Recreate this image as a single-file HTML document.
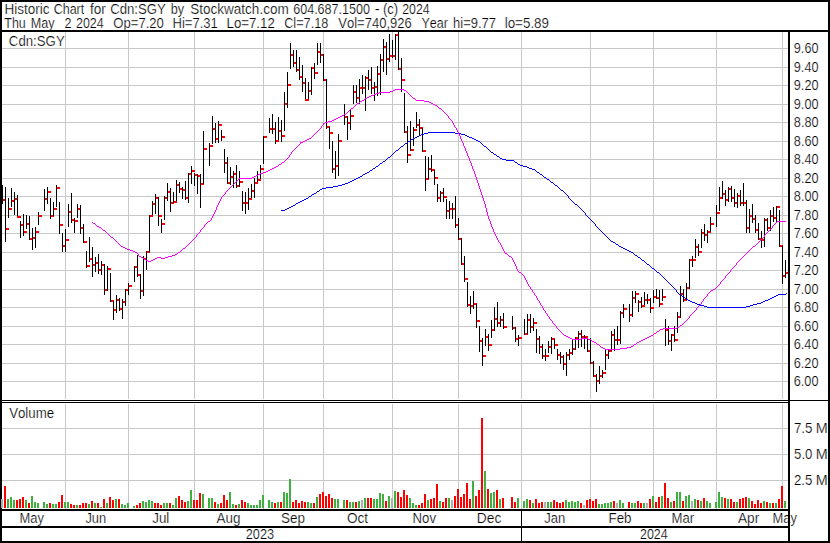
<!DOCTYPE html>
<html><head><meta charset="utf-8"><title>Historic Chart for Cdn:SGY</title>
<style>
html,body{margin:0;padding:0;background:#fff;}
body{width:830px;height:543px;overflow:hidden;font-family:"Liberation Sans",sans-serif;}
svg{display:block;}
text{font-family:"Liberation Sans",sans-serif;white-space:pre;}
</style></head><body>
<svg width="830" height="543" viewBox="0 0 830 543" shape-rendering="crispEdges"><g><rect x="2" y="48" width="786" height="1" fill="#c8c8c8"/><rect x="2" y="67" width="786" height="1" fill="#c8c8c8"/><rect x="2" y="85" width="786" height="1" fill="#c8c8c8"/><rect x="2" y="104" width="786" height="1" fill="#c8c8c8"/><rect x="2" y="122" width="786" height="1" fill="#c8c8c8"/><rect x="2" y="141" width="786" height="1" fill="#c8c8c8"/><rect x="2" y="159" width="786" height="1" fill="#c8c8c8"/><rect x="2" y="178" width="786" height="1" fill="#c8c8c8"/><rect x="2" y="196" width="786" height="1" fill="#c8c8c8"/><rect x="2" y="215" width="786" height="1" fill="#c8c8c8"/><rect x="2" y="233" width="786" height="1" fill="#c8c8c8"/><rect x="2" y="252" width="786" height="1" fill="#c8c8c8"/><rect x="2" y="270" width="786" height="1" fill="#c8c8c8"/><rect x="2" y="289" width="786" height="1" fill="#c8c8c8"/><rect x="2" y="307" width="786" height="1" fill="#c8c8c8"/><rect x="2" y="326" width="786" height="1" fill="#c8c8c8"/><rect x="2" y="344" width="786" height="1" fill="#c8c8c8"/><rect x="2" y="363" width="786" height="1" fill="#c8c8c8"/><rect x="2" y="381" width="786" height="1" fill="#c8c8c8"/><rect x="2" y="428" width="786" height="1" fill="#c8c8c8"/><rect x="2" y="454" width="786" height="1" fill="#c8c8c8"/><rect x="2" y="480" width="786" height="1" fill="#c8c8c8"/><rect x="65" y="32" width="1" height="367" fill="#c8c8c8"/><rect x="65" y="404" width="1" height="105" fill="#c8c8c8"/><rect x="128" y="32" width="1" height="367" fill="#c8c8c8"/><rect x="128" y="404" width="1" height="105" fill="#c8c8c8"/><rect x="194" y="32" width="1" height="367" fill="#c8c8c8"/><rect x="194" y="404" width="1" height="105" fill="#c8c8c8"/><rect x="263" y="32" width="1" height="367" fill="#c8c8c8"/><rect x="263" y="404" width="1" height="105" fill="#c8c8c8"/><rect x="323" y="32" width="1" height="367" fill="#c8c8c8"/><rect x="323" y="404" width="1" height="105" fill="#c8c8c8"/><rect x="392" y="32" width="1" height="367" fill="#c8c8c8"/><rect x="392" y="404" width="1" height="105" fill="#c8c8c8"/><rect x="458" y="32" width="1" height="367" fill="#c8c8c8"/><rect x="458" y="404" width="1" height="105" fill="#c8c8c8"/><rect x="521" y="32" width="1" height="367" fill="#c8c8c8"/><rect x="521" y="404" width="1" height="105" fill="#c8c8c8"/><rect x="590" y="32" width="1" height="367" fill="#c8c8c8"/><rect x="590" y="404" width="1" height="105" fill="#c8c8c8"/><rect x="653" y="32" width="1" height="367" fill="#c8c8c8"/><rect x="653" y="404" width="1" height="105" fill="#c8c8c8"/><rect x="716" y="32" width="1" height="367" fill="#c8c8c8"/><rect x="716" y="404" width="1" height="105" fill="#c8c8c8"/><rect x="782" y="32" width="1" height="367" fill="#c8c8c8"/><rect x="782" y="404" width="1" height="105" fill="#c8c8c8"/></g>
<g><rect x="1" y="499" width="2" height="9" fill="#b0b0b0"/><rect x="4" y="486" width="2" height="22" fill="#ff0000"/><rect x="7" y="499" width="2" height="9" fill="#3eb03e"/><rect x="10" y="497" width="2" height="11" fill="#3eb03e"/><rect x="13" y="500" width="2" height="8" fill="#3eb03e"/><rect x="16" y="500" width="2" height="8" fill="#ff0000"/><rect x="19" y="499" width="2" height="9" fill="#ff0000"/><rect x="22" y="497" width="2" height="11" fill="#ff0000"/><rect x="25" y="500" width="2" height="8" fill="#3eb03e"/><rect x="28" y="503" width="2" height="5" fill="#ff0000"/><rect x="31" y="496" width="2" height="12" fill="#3eb03e"/><rect x="34" y="502" width="2" height="6" fill="#3eb03e"/><rect x="37" y="503" width="2" height="5" fill="#3eb03e"/><rect x="43" y="502" width="2" height="6" fill="#3eb03e"/><rect x="46" y="504" width="2" height="4" fill="#3eb03e"/><rect x="49" y="503" width="2" height="5" fill="#ff0000"/><rect x="52" y="504" width="2" height="4" fill="#3eb03e"/><rect x="55" y="504" width="2" height="4" fill="#3eb03e"/><rect x="58" y="502" width="2" height="6" fill="#ff0000"/><rect x="61" y="495" width="2" height="13" fill="#ff0000"/><rect x="64" y="502" width="2" height="6" fill="#3eb03e"/><rect x="67" y="502" width="2" height="6" fill="#3eb03e"/><rect x="70" y="504" width="2" height="4" fill="#ff0000"/><rect x="73" y="505" width="2" height="3" fill="#ff0000"/><rect x="76" y="505" width="2" height="3" fill="#3eb03e"/><rect x="79" y="505" width="2" height="3" fill="#ff0000"/><rect x="82" y="503" width="2" height="5" fill="#ff0000"/><rect x="85" y="503" width="2" height="5" fill="#ff0000"/><rect x="88" y="504" width="2" height="4" fill="#3eb03e"/><rect x="91" y="501" width="2" height="7" fill="#ff0000"/><rect x="94" y="503" width="2" height="5" fill="#3eb03e"/><rect x="97" y="503" width="2" height="5" fill="#ff0000"/><rect x="100" y="507" width="2" height="1" fill="#3eb03e"/><rect x="103" y="499" width="2" height="9" fill="#ff0000"/><rect x="106" y="503" width="2" height="5" fill="#3eb03e"/><rect x="109" y="497" width="2" height="11" fill="#ff0000"/><rect x="112" y="500" width="2" height="8" fill="#ff0000"/><rect x="115" y="499" width="2" height="9" fill="#3eb03e"/><rect x="118" y="499" width="2" height="9" fill="#ff0000"/><rect x="121" y="504" width="2" height="4" fill="#3eb03e"/><rect x="124" y="505" width="2" height="3" fill="#3eb03e"/><rect x="127" y="503" width="2" height="5" fill="#3eb03e"/><rect x="133" y="506" width="2" height="2" fill="#3eb03e"/><rect x="136" y="505" width="2" height="3" fill="#ff0000"/><rect x="139" y="503" width="2" height="5" fill="#ff0000"/><rect x="142" y="501" width="2" height="7" fill="#3eb03e"/><rect x="145" y="502" width="2" height="6" fill="#3eb03e"/><rect x="148" y="500" width="2" height="8" fill="#3eb03e"/><rect x="151" y="501" width="2" height="7" fill="#3eb03e"/><rect x="154" y="503" width="2" height="5" fill="#ff0000"/><rect x="157" y="503" width="2" height="5" fill="#ff0000"/><rect x="160" y="505" width="2" height="3" fill="#ff0000"/><rect x="163" y="503" width="2" height="5" fill="#3eb03e"/><rect x="166" y="503" width="2" height="5" fill="#3eb03e"/><rect x="169" y="503" width="2" height="5" fill="#ff0000"/><rect x="172" y="505" width="2" height="3" fill="#3eb03e"/><rect x="175" y="498" width="2" height="10" fill="#3eb03e"/><rect x="178" y="496" width="2" height="12" fill="#ff0000"/><rect x="181" y="500" width="2" height="8" fill="#ff0000"/><rect x="184" y="502" width="2" height="6" fill="#ff0000"/><rect x="187" y="501" width="2" height="7" fill="#3eb03e"/><rect x="190" y="490" width="2" height="18" fill="#3eb03e"/><rect x="193" y="500" width="2" height="8" fill="#ff0000"/><rect x="196" y="500" width="2" height="8" fill="#ff0000"/><rect x="199" y="493" width="2" height="15" fill="#ff0000"/><rect x="202" y="494" width="2" height="14" fill="#3eb03e"/><rect x="208" y="498" width="2" height="10" fill="#3eb03e"/><rect x="211" y="498" width="2" height="10" fill="#3eb03e"/><rect x="214" y="502" width="2" height="6" fill="#ff0000"/><rect x="217" y="504" width="2" height="4" fill="#3eb03e"/><rect x="220" y="503" width="2" height="5" fill="#ff0000"/><rect x="223" y="495" width="2" height="13" fill="#ff0000"/><rect x="226" y="500" width="2" height="8" fill="#ff0000"/><rect x="229" y="492" width="2" height="16" fill="#3eb03e"/><rect x="232" y="504" width="2" height="4" fill="#3eb03e"/><rect x="235" y="505" width="2" height="3" fill="#ff0000"/><rect x="238" y="504" width="2" height="4" fill="#3eb03e"/><rect x="241" y="500" width="2" height="8" fill="#ff0000"/><rect x="244" y="502" width="2" height="6" fill="#ff0000"/><rect x="247" y="503" width="2" height="5" fill="#3eb03e"/><rect x="250" y="505" width="2" height="3" fill="#3eb03e"/><rect x="253" y="505" width="2" height="3" fill="#3eb03e"/><rect x="256" y="505" width="2" height="3" fill="#3eb03e"/><rect x="259" y="500" width="2" height="8" fill="#3eb03e"/><rect x="262" y="495" width="2" height="13" fill="#3eb03e"/><rect x="268" y="500" width="2" height="8" fill="#3eb03e"/><rect x="271" y="502" width="2" height="6" fill="#3eb03e"/><rect x="274" y="503" width="2" height="5" fill="#ff0000"/><rect x="277" y="502" width="2" height="6" fill="#3eb03e"/><rect x="280" y="502" width="2" height="6" fill="#ff0000"/><rect x="283" y="492" width="2" height="16" fill="#3eb03e"/><rect x="286" y="493" width="2" height="15" fill="#3eb03e"/><rect x="289" y="479" width="2" height="29" fill="#3eb03e"/><rect x="292" y="502" width="2" height="6" fill="#ff0000"/><rect x="295" y="500" width="2" height="8" fill="#ff0000"/><rect x="298" y="503" width="2" height="5" fill="#ff0000"/><rect x="301" y="501" width="2" height="7" fill="#ff0000"/><rect x="304" y="502" width="2" height="6" fill="#ff0000"/><rect x="307" y="502" width="2" height="6" fill="#3eb03e"/><rect x="310" y="503" width="2" height="5" fill="#3eb03e"/><rect x="313" y="503" width="2" height="5" fill="#ff0000"/><rect x="316" y="497" width="2" height="11" fill="#3eb03e"/><rect x="319" y="494" width="2" height="14" fill="#ff0000"/><rect x="322" y="492" width="2" height="16" fill="#ff0000"/><rect x="325" y="496" width="2" height="12" fill="#ff0000"/><rect x="328" y="494" width="2" height="14" fill="#ff0000"/><rect x="331" y="498" width="2" height="10" fill="#ff0000"/><rect x="334" y="499" width="2" height="9" fill="#3eb03e"/><rect x="337" y="499" width="2" height="9" fill="#3eb03e"/><rect x="343" y="500" width="2" height="8" fill="#3eb03e"/><rect x="346" y="500" width="2" height="8" fill="#ff0000"/><rect x="349" y="502" width="2" height="6" fill="#3eb03e"/><rect x="352" y="502" width="2" height="6" fill="#3eb03e"/><rect x="355" y="502" width="2" height="6" fill="#ff0000"/><rect x="358" y="501" width="2" height="7" fill="#3eb03e"/><rect x="361" y="500" width="2" height="8" fill="#b0b0b0"/><rect x="364" y="498" width="2" height="10" fill="#3eb03e"/><rect x="367" y="498" width="2" height="10" fill="#ff0000"/><rect x="370" y="498" width="2" height="10" fill="#ff0000"/><rect x="373" y="499" width="2" height="9" fill="#3eb03e"/><rect x="376" y="499" width="2" height="9" fill="#3eb03e"/><rect x="379" y="493" width="2" height="15" fill="#3eb03e"/><rect x="382" y="494" width="2" height="14" fill="#3eb03e"/><rect x="385" y="501" width="2" height="7" fill="#ff0000"/><rect x="388" y="496" width="2" height="12" fill="#3eb03e"/><rect x="391" y="498" width="2" height="10" fill="#b0b0b0"/><rect x="394" y="491" width="2" height="17" fill="#3eb03e"/><rect x="397" y="492" width="2" height="16" fill="#ff0000"/><rect x="400" y="497" width="2" height="11" fill="#ff0000"/><rect x="403" y="490" width="2" height="18" fill="#ff0000"/><rect x="406" y="495" width="2" height="13" fill="#ff0000"/><rect x="409" y="498" width="2" height="10" fill="#3eb03e"/><rect x="412" y="503" width="2" height="5" fill="#3eb03e"/><rect x="415" y="505" width="2" height="3" fill="#3eb03e"/><rect x="418" y="505" width="2" height="3" fill="#ff0000"/><rect x="421" y="503" width="2" height="5" fill="#ff0000"/><rect x="424" y="494" width="2" height="14" fill="#ff0000"/><rect x="427" y="500" width="2" height="8" fill="#3eb03e"/><rect x="430" y="499" width="2" height="9" fill="#ff0000"/><rect x="433" y="498" width="2" height="10" fill="#ff0000"/><rect x="436" y="484" width="2" height="24" fill="#ff0000"/><rect x="439" y="501" width="2" height="7" fill="#3eb03e"/><rect x="442" y="502" width="2" height="6" fill="#ff0000"/><rect x="445" y="498" width="2" height="10" fill="#ff0000"/><rect x="448" y="498" width="2" height="10" fill="#3eb03e"/><rect x="451" y="500" width="2" height="8" fill="#b0b0b0"/><rect x="454" y="496" width="2" height="12" fill="#ff0000"/><rect x="457" y="489" width="2" height="19" fill="#ff0000"/><rect x="460" y="497" width="2" height="11" fill="#ff0000"/><rect x="463" y="494" width="2" height="14" fill="#ff0000"/><rect x="466" y="483" width="2" height="25" fill="#ff0000"/><rect x="469" y="499" width="2" height="9" fill="#ff0000"/><rect x="472" y="481" width="2" height="27" fill="#3eb03e"/><rect x="475" y="496" width="2" height="12" fill="#ff0000"/><rect x="478" y="490" width="2" height="18" fill="#ff0000"/><rect x="481" y="418" width="2" height="90" fill="#ff0000"/><rect x="484" y="471" width="2" height="37" fill="#3eb03e"/><rect x="487" y="489" width="2" height="19" fill="#ff0000"/><rect x="490" y="493" width="2" height="15" fill="#3eb03e"/><rect x="493" y="492" width="2" height="16" fill="#3eb03e"/><rect x="496" y="490" width="2" height="18" fill="#ff0000"/><rect x="499" y="499" width="2" height="9" fill="#3eb03e"/><rect x="502" y="498" width="2" height="10" fill="#ff0000"/><rect x="511" y="497" width="2" height="11" fill="#ff0000"/><rect x="514" y="502" width="2" height="6" fill="#ff0000"/><rect x="517" y="498" width="2" height="10" fill="#3eb03e"/><rect x="523" y="501" width="2" height="7" fill="#3eb03e"/><rect x="526" y="499" width="2" height="9" fill="#3eb03e"/><rect x="529" y="500" width="2" height="8" fill="#ff0000"/><rect x="532" y="503" width="2" height="5" fill="#3eb03e"/><rect x="535" y="499" width="2" height="9" fill="#ff0000"/><rect x="538" y="503" width="2" height="5" fill="#ff0000"/><rect x="541" y="502" width="2" height="6" fill="#ff0000"/><rect x="544" y="502" width="2" height="6" fill="#b0b0b0"/><rect x="547" y="502" width="2" height="6" fill="#3eb03e"/><rect x="550" y="502" width="2" height="6" fill="#3eb03e"/><rect x="553" y="500" width="2" height="8" fill="#ff0000"/><rect x="556" y="502" width="2" height="6" fill="#ff0000"/><rect x="559" y="503" width="2" height="5" fill="#ff0000"/><rect x="562" y="502" width="2" height="6" fill="#ff0000"/><rect x="565" y="500" width="2" height="8" fill="#3eb03e"/><rect x="568" y="502" width="2" height="6" fill="#3eb03e"/><rect x="571" y="501" width="2" height="7" fill="#3eb03e"/><rect x="574" y="502" width="2" height="6" fill="#3eb03e"/><rect x="577" y="501" width="2" height="7" fill="#3eb03e"/><rect x="580" y="503" width="2" height="5" fill="#ff0000"/><rect x="583" y="505" width="2" height="3" fill="#b0b0b0"/><rect x="586" y="500" width="2" height="8" fill="#ff0000"/><rect x="589" y="499" width="2" height="9" fill="#ff0000"/><rect x="592" y="501" width="2" height="7" fill="#ff0000"/><rect x="595" y="499" width="2" height="9" fill="#ff0000"/><rect x="598" y="504" width="2" height="4" fill="#3eb03e"/><rect x="601" y="504" width="2" height="4" fill="#3eb03e"/><rect x="604" y="503" width="2" height="5" fill="#3eb03e"/><rect x="607" y="503" width="2" height="5" fill="#3eb03e"/><rect x="610" y="502" width="2" height="6" fill="#3eb03e"/><rect x="613" y="501" width="2" height="7" fill="#ff0000"/><rect x="616" y="503" width="2" height="5" fill="#b0b0b0"/><rect x="619" y="500" width="2" height="8" fill="#3eb03e"/><rect x="622" y="503" width="2" height="5" fill="#3eb03e"/><rect x="628" y="502" width="2" height="6" fill="#ff0000"/><rect x="631" y="503" width="2" height="5" fill="#3eb03e"/><rect x="634" y="503" width="2" height="5" fill="#3eb03e"/><rect x="637" y="501" width="2" height="7" fill="#ff0000"/><rect x="640" y="503" width="2" height="5" fill="#ff0000"/><rect x="643" y="503" width="2" height="5" fill="#3eb03e"/><rect x="646" y="503" width="2" height="5" fill="#b0b0b0"/><rect x="649" y="499" width="2" height="9" fill="#ff0000"/><rect x="652" y="496" width="2" height="12" fill="#3eb03e"/><rect x="655" y="502" width="2" height="6" fill="#ff0000"/><rect x="658" y="497" width="2" height="11" fill="#ff0000"/><rect x="661" y="496" width="2" height="12" fill="#3eb03e"/><rect x="664" y="483" width="2" height="25" fill="#ff0000"/><rect x="667" y="498" width="2" height="10" fill="#ff0000"/><rect x="670" y="502" width="2" height="6" fill="#3eb03e"/><rect x="673" y="501" width="2" height="7" fill="#ff0000"/><rect x="676" y="492" width="2" height="16" fill="#3eb03e"/><rect x="679" y="492" width="2" height="16" fill="#3eb03e"/><rect x="682" y="501" width="2" height="7" fill="#ff0000"/><rect x="685" y="496" width="2" height="12" fill="#3eb03e"/><rect x="688" y="495" width="2" height="13" fill="#3eb03e"/><rect x="691" y="501" width="2" height="7" fill="#b0b0b0"/><rect x="694" y="499" width="2" height="9" fill="#3eb03e"/><rect x="697" y="500" width="2" height="8" fill="#ff0000"/><rect x="700" y="501" width="2" height="7" fill="#3eb03e"/><rect x="703" y="498" width="2" height="10" fill="#ff0000"/><rect x="706" y="501" width="2" height="7" fill="#3eb03e"/><rect x="709" y="503" width="2" height="5" fill="#3eb03e"/><rect x="715" y="502" width="2" height="6" fill="#3eb03e"/><rect x="718" y="492" width="2" height="16" fill="#3eb03e"/><rect x="721" y="497" width="2" height="11" fill="#3eb03e"/><rect x="724" y="498" width="2" height="10" fill="#ff0000"/><rect x="727" y="499" width="2" height="9" fill="#3eb03e"/><rect x="730" y="499" width="2" height="9" fill="#ff0000"/><rect x="733" y="502" width="2" height="6" fill="#ff0000"/><rect x="736" y="502" width="2" height="6" fill="#3eb03e"/><rect x="739" y="499" width="2" height="9" fill="#ff0000"/><rect x="742" y="498" width="2" height="10" fill="#ff0000"/><rect x="745" y="497" width="2" height="11" fill="#ff0000"/><rect x="748" y="498" width="2" height="10" fill="#3eb03e"/><rect x="751" y="501" width="2" height="7" fill="#ff0000"/><rect x="754" y="504" width="2" height="4" fill="#ff0000"/><rect x="757" y="500" width="2" height="8" fill="#ff0000"/><rect x="760" y="503" width="2" height="5" fill="#ff0000"/><rect x="763" y="501" width="2" height="7" fill="#3eb03e"/><rect x="766" y="502" width="2" height="6" fill="#ff0000"/><rect x="769" y="503" width="2" height="5" fill="#3eb03e"/><rect x="772" y="503" width="2" height="5" fill="#ff0000"/><rect x="775" y="503" width="2" height="5" fill="#3eb03e"/><rect x="778" y="499" width="2" height="9" fill="#ff0000"/><rect x="781" y="486" width="2" height="22" fill="#ff0000"/><rect x="784" y="501" width="2" height="7" fill="#3eb03e"/></g>
<g><rect x="2" y="199" width="4" height="2" fill="#ff0000"/><rect x="2" y="185" width="1" height="19" fill="#000"/><rect x="5" y="228" width="4" height="2" fill="#ff0000"/><rect x="5" y="187" width="1" height="55" fill="#000"/><rect x="8" y="208" width="4" height="2" fill="#ff0000"/><rect x="8" y="198" width="1" height="20" fill="#000"/><rect x="11" y="200" width="4" height="2" fill="#ff0000"/><rect x="11" y="188" width="1" height="19" fill="#000"/><rect x="14" y="198" width="4" height="2" fill="#ff0000"/><rect x="14" y="192" width="1" height="23" fill="#000"/><rect x="17" y="216" width="4" height="2" fill="#ff0000"/><rect x="17" y="195" width="1" height="21" fill="#000"/><rect x="20" y="224" width="4" height="2" fill="#ff0000"/><rect x="20" y="221" width="1" height="17" fill="#000"/><rect x="23" y="231" width="4" height="2" fill="#ff0000"/><rect x="23" y="214" width="1" height="22" fill="#000"/><rect x="26" y="223" width="4" height="2" fill="#ff0000"/><rect x="26" y="215" width="1" height="14" fill="#000"/><rect x="29" y="238" width="4" height="2" fill="#ff0000"/><rect x="29" y="216" width="1" height="24" fill="#000"/><rect x="32" y="237" width="4" height="2" fill="#ff0000"/><rect x="32" y="228" width="1" height="22" fill="#000"/><rect x="35" y="231" width="4" height="2" fill="#ff0000"/><rect x="35" y="227" width="1" height="21" fill="#000"/><rect x="38" y="215" width="4" height="2" fill="#ff0000"/><rect x="38" y="212" width="1" height="13" fill="#000"/><rect x="44" y="198" width="4" height="2" fill="#ff0000"/><rect x="44" y="189" width="1" height="22" fill="#000"/><rect x="47" y="191" width="4" height="2" fill="#ff0000"/><rect x="47" y="187" width="1" height="17" fill="#000"/><rect x="50" y="215" width="4" height="2" fill="#ff0000"/><rect x="50" y="198" width="1" height="21" fill="#000"/><rect x="53" y="208" width="4" height="2" fill="#ff0000"/><rect x="53" y="202" width="1" height="14" fill="#000"/><rect x="56" y="187" width="4" height="2" fill="#ff0000"/><rect x="56" y="185" width="1" height="22" fill="#000"/><rect x="59" y="224" width="4" height="2" fill="#ff0000"/><rect x="59" y="202" width="1" height="32" fill="#000"/><rect x="62" y="245" width="4" height="2" fill="#ff0000"/><rect x="62" y="233" width="1" height="19" fill="#000"/><rect x="65" y="239" width="4" height="2" fill="#ff0000"/><rect x="65" y="229" width="1" height="23" fill="#000"/><rect x="68" y="211" width="4" height="2" fill="#ff0000"/><rect x="68" y="204" width="1" height="23" fill="#000"/><rect x="71" y="219" width="4" height="2" fill="#ff0000"/><rect x="71" y="193" width="1" height="30" fill="#000"/><rect x="74" y="220" width="4" height="2" fill="#ff0000"/><rect x="74" y="218" width="1" height="15" fill="#000"/><rect x="77" y="208" width="4" height="2" fill="#ff0000"/><rect x="77" y="204" width="1" height="14" fill="#000"/><rect x="80" y="227" width="4" height="2" fill="#ff0000"/><rect x="80" y="205" width="1" height="29" fill="#000"/><rect x="83" y="241" width="4" height="2" fill="#ff0000"/><rect x="83" y="224" width="1" height="19" fill="#000"/><rect x="86" y="265" width="4" height="2" fill="#ff0000"/><rect x="86" y="251" width="1" height="17" fill="#000"/><rect x="89" y="258" width="4" height="2" fill="#ff0000"/><rect x="89" y="237" width="1" height="25" fill="#000"/><rect x="92" y="264" width="4" height="2" fill="#ff0000"/><rect x="92" y="247" width="1" height="30" fill="#000"/><rect x="95" y="262" width="4" height="2" fill="#ff0000"/><rect x="95" y="257" width="1" height="15" fill="#000"/><rect x="98" y="269" width="4" height="2" fill="#ff0000"/><rect x="98" y="254" width="1" height="20" fill="#000"/><rect x="101" y="264" width="4" height="2" fill="#ff0000"/><rect x="101" y="261" width="1" height="14" fill="#000"/><rect x="104" y="289" width="4" height="2" fill="#ff0000"/><rect x="104" y="264" width="1" height="31" fill="#000"/><rect x="107" y="268" width="4" height="2" fill="#ff0000"/><rect x="107" y="266" width="1" height="25" fill="#000"/><rect x="110" y="300" width="4" height="2" fill="#ff0000"/><rect x="110" y="273" width="1" height="29" fill="#000"/><rect x="113" y="309" width="4" height="2" fill="#ff0000"/><rect x="113" y="301" width="1" height="19" fill="#000"/><rect x="116" y="299" width="4" height="2" fill="#ff0000"/><rect x="116" y="295" width="1" height="18" fill="#000"/><rect x="119" y="308" width="4" height="2" fill="#ff0000"/><rect x="119" y="298" width="1" height="13" fill="#000"/><rect x="122" y="301" width="4" height="2" fill="#ff0000"/><rect x="122" y="299" width="1" height="20" fill="#000"/><rect x="125" y="289" width="4" height="2" fill="#ff0000"/><rect x="125" y="289" width="1" height="17" fill="#000"/><rect x="128" y="285" width="4" height="2" fill="#ff0000"/><rect x="128" y="283" width="1" height="12" fill="#000"/><rect x="134" y="266" width="4" height="2" fill="#ff0000"/><rect x="134" y="266" width="1" height="16" fill="#000"/><rect x="137" y="274" width="4" height="2" fill="#ff0000"/><rect x="137" y="255" width="1" height="22" fill="#000"/><rect x="140" y="290" width="4" height="2" fill="#ff0000"/><rect x="140" y="274" width="1" height="25" fill="#000"/><rect x="143" y="258" width="4" height="2" fill="#ff0000"/><rect x="143" y="256" width="1" height="40" fill="#000"/><rect x="146" y="251" width="4" height="2" fill="#ff0000"/><rect x="146" y="251" width="1" height="19" fill="#000"/><rect x="149" y="215" width="4" height="2" fill="#ff0000"/><rect x="149" y="215" width="1" height="37" fill="#000"/><rect x="152" y="203" width="4" height="2" fill="#ff0000"/><rect x="152" y="201" width="1" height="14" fill="#000"/><rect x="155" y="197" width="4" height="2" fill="#ff0000"/><rect x="155" y="194" width="1" height="20" fill="#000"/><rect x="158" y="215" width="4" height="2" fill="#ff0000"/><rect x="158" y="197" width="1" height="29" fill="#000"/><rect x="161" y="223" width="4" height="2" fill="#ff0000"/><rect x="161" y="219" width="1" height="14" fill="#000"/><rect x="164" y="197" width="4" height="2" fill="#ff0000"/><rect x="164" y="196" width="1" height="24" fill="#000"/><rect x="167" y="191" width="4" height="2" fill="#ff0000"/><rect x="167" y="183" width="1" height="18" fill="#000"/><rect x="170" y="202" width="4" height="2" fill="#ff0000"/><rect x="170" y="188" width="1" height="24" fill="#000"/><rect x="173" y="201" width="4" height="2" fill="#ff0000"/><rect x="173" y="192" width="1" height="11" fill="#000"/><rect x="176" y="184" width="4" height="2" fill="#ff0000"/><rect x="176" y="180" width="1" height="21" fill="#000"/><rect x="179" y="188" width="4" height="2" fill="#ff0000"/><rect x="179" y="182" width="1" height="11" fill="#000"/><rect x="182" y="189" width="4" height="2" fill="#ff0000"/><rect x="182" y="187" width="1" height="12" fill="#000"/><rect x="185" y="197" width="4" height="2" fill="#ff0000"/><rect x="185" y="181" width="1" height="19" fill="#000"/><rect x="188" y="173" width="4" height="2" fill="#ff0000"/><rect x="188" y="173" width="1" height="30" fill="#000"/><rect x="191" y="170" width="4" height="2" fill="#ff0000"/><rect x="191" y="166" width="1" height="18" fill="#000"/><rect x="194" y="174" width="4" height="2" fill="#ff0000"/><rect x="194" y="173" width="1" height="13" fill="#000"/><rect x="197" y="175" width="4" height="2" fill="#ff0000"/><rect x="197" y="174" width="1" height="20" fill="#000"/><rect x="200" y="183" width="4" height="2" fill="#ff0000"/><rect x="200" y="174" width="1" height="34" fill="#000"/><rect x="203" y="148" width="4" height="2" fill="#ff0000"/><rect x="203" y="131" width="1" height="53" fill="#000"/><rect x="209" y="145" width="4" height="2" fill="#ff0000"/><rect x="209" y="143" width="1" height="23" fill="#000"/><rect x="212" y="128" width="4" height="2" fill="#ff0000"/><rect x="212" y="116" width="1" height="28" fill="#000"/><rect x="215" y="138" width="4" height="2" fill="#ff0000"/><rect x="215" y="123" width="1" height="20" fill="#000"/><rect x="218" y="124" width="4" height="2" fill="#ff0000"/><rect x="218" y="121" width="1" height="22" fill="#000"/><rect x="221" y="136" width="4" height="2" fill="#ff0000"/><rect x="221" y="130" width="1" height="11" fill="#000"/><rect x="224" y="162" width="4" height="2" fill="#ff0000"/><rect x="224" y="149" width="1" height="24" fill="#000"/><rect x="227" y="182" width="4" height="2" fill="#ff0000"/><rect x="227" y="157" width="1" height="27" fill="#000"/><rect x="230" y="176" width="4" height="2" fill="#ff0000"/><rect x="230" y="167" width="1" height="18" fill="#000"/><rect x="233" y="173" width="4" height="2" fill="#ff0000"/><rect x="233" y="171" width="1" height="17" fill="#000"/><rect x="236" y="185" width="4" height="2" fill="#ff0000"/><rect x="236" y="165" width="1" height="23" fill="#000"/><rect x="239" y="181" width="4" height="2" fill="#ff0000"/><rect x="239" y="171" width="1" height="16" fill="#000"/><rect x="242" y="202" width="4" height="2" fill="#ff0000"/><rect x="242" y="191" width="1" height="20" fill="#000"/><rect x="245" y="202" width="4" height="2" fill="#ff0000"/><rect x="245" y="192" width="1" height="22" fill="#000"/><rect x="248" y="198" width="4" height="2" fill="#ff0000"/><rect x="248" y="188" width="1" height="22" fill="#000"/><rect x="251" y="190" width="4" height="2" fill="#ff0000"/><rect x="251" y="184" width="1" height="14" fill="#000"/><rect x="254" y="182" width="4" height="2" fill="#ff0000"/><rect x="254" y="178" width="1" height="20" fill="#000"/><rect x="257" y="179" width="4" height="2" fill="#ff0000"/><rect x="257" y="171" width="1" height="11" fill="#000"/><rect x="260" y="168" width="4" height="2" fill="#ff0000"/><rect x="260" y="165" width="1" height="14" fill="#000"/><rect x="263" y="136" width="4" height="2" fill="#ff0000"/><rect x="263" y="136" width="1" height="28" fill="#000"/><rect x="269" y="128" width="4" height="2" fill="#ff0000"/><rect x="269" y="118" width="1" height="15" fill="#000"/><rect x="272" y="128" width="4" height="2" fill="#ff0000"/><rect x="272" y="114" width="1" height="20" fill="#000"/><rect x="275" y="140" width="4" height="2" fill="#ff0000"/><rect x="275" y="122" width="1" height="22" fill="#000"/><rect x="278" y="130" width="4" height="2" fill="#ff0000"/><rect x="278" y="117" width="1" height="23" fill="#000"/><rect x="281" y="135" width="4" height="2" fill="#ff0000"/><rect x="281" y="120" width="1" height="22" fill="#000"/><rect x="284" y="103" width="4" height="2" fill="#ff0000"/><rect x="284" y="92" width="1" height="39" fill="#000"/><rect x="287" y="84" width="4" height="2" fill="#ff0000"/><rect x="287" y="72" width="1" height="36" fill="#000"/><rect x="290" y="54" width="4" height="2" fill="#ff0000"/><rect x="290" y="43" width="1" height="26" fill="#000"/><rect x="293" y="62" width="4" height="2" fill="#ff0000"/><rect x="293" y="50" width="1" height="17" fill="#000"/><rect x="296" y="69" width="4" height="2" fill="#ff0000"/><rect x="296" y="50" width="1" height="22" fill="#000"/><rect x="299" y="76" width="4" height="2" fill="#ff0000"/><rect x="299" y="57" width="1" height="23" fill="#000"/><rect x="302" y="82" width="4" height="2" fill="#ff0000"/><rect x="302" y="65" width="1" height="27" fill="#000"/><rect x="305" y="99" width="4" height="2" fill="#ff0000"/><rect x="305" y="78" width="1" height="21" fill="#000"/><rect x="308" y="90" width="4" height="2" fill="#ff0000"/><rect x="308" y="82" width="1" height="17" fill="#000"/><rect x="311" y="67" width="4" height="2" fill="#ff0000"/><rect x="311" y="67" width="1" height="28" fill="#000"/><rect x="314" y="72" width="4" height="2" fill="#ff0000"/><rect x="314" y="63" width="1" height="16" fill="#000"/><rect x="317" y="51" width="4" height="2" fill="#ff0000"/><rect x="317" y="43" width="1" height="22" fill="#000"/><rect x="320" y="54" width="4" height="2" fill="#ff0000"/><rect x="320" y="43" width="1" height="20" fill="#000"/><rect x="323" y="79" width="4" height="2" fill="#ff0000"/><rect x="323" y="54" width="1" height="27" fill="#000"/><rect x="326" y="126" width="4" height="2" fill="#ff0000"/><rect x="326" y="79" width="1" height="50" fill="#000"/><rect x="329" y="132" width="4" height="2" fill="#ff0000"/><rect x="329" y="127" width="1" height="22" fill="#000"/><rect x="332" y="168" width="4" height="2" fill="#ff0000"/><rect x="332" y="141" width="1" height="32" fill="#000"/><rect x="335" y="165" width="4" height="2" fill="#ff0000"/><rect x="335" y="151" width="1" height="28" fill="#000"/><rect x="338" y="140" width="4" height="2" fill="#ff0000"/><rect x="338" y="134" width="1" height="42" fill="#000"/><rect x="344" y="116" width="4" height="2" fill="#ff0000"/><rect x="344" y="104" width="1" height="21" fill="#000"/><rect x="347" y="122" width="4" height="2" fill="#ff0000"/><rect x="347" y="116" width="1" height="24" fill="#000"/><rect x="350" y="115" width="4" height="2" fill="#ff0000"/><rect x="350" y="110" width="1" height="20" fill="#000"/><rect x="353" y="91" width="4" height="2" fill="#ff0000"/><rect x="353" y="85" width="1" height="19" fill="#000"/><rect x="356" y="97" width="4" height="2" fill="#ff0000"/><rect x="356" y="85" width="1" height="18" fill="#000"/><rect x="359" y="87" width="4" height="2" fill="#ff0000"/><rect x="359" y="79" width="1" height="25" fill="#000"/><rect x="362" y="87" width="4" height="2" fill="#ff0000"/><rect x="362" y="75" width="1" height="19" fill="#000"/><rect x="365" y="77" width="4" height="2" fill="#ff0000"/><rect x="365" y="76" width="1" height="35" fill="#000"/><rect x="368" y="79" width="4" height="2" fill="#ff0000"/><rect x="368" y="70" width="1" height="20" fill="#000"/><rect x="371" y="87" width="4" height="2" fill="#ff0000"/><rect x="371" y="67" width="1" height="27" fill="#000"/><rect x="374" y="86" width="4" height="2" fill="#ff0000"/><rect x="374" y="82" width="1" height="19" fill="#000"/><rect x="377" y="73" width="4" height="2" fill="#ff0000"/><rect x="377" y="66" width="1" height="30" fill="#000"/><rect x="380" y="59" width="4" height="2" fill="#ff0000"/><rect x="380" y="54" width="1" height="41" fill="#000"/><rect x="383" y="46" width="4" height="2" fill="#ff0000"/><rect x="383" y="39" width="1" height="33" fill="#000"/><rect x="386" y="58" width="4" height="2" fill="#ff0000"/><rect x="386" y="42" width="1" height="33" fill="#000"/><rect x="389" y="55" width="4" height="2" fill="#ff0000"/><rect x="389" y="34" width="1" height="28" fill="#000"/><rect x="392" y="55" width="4" height="2" fill="#ff0000"/><rect x="392" y="40" width="1" height="18" fill="#000"/><rect x="395" y="34" width="4" height="2" fill="#ff0000"/><rect x="395" y="34" width="1" height="26" fill="#000"/><rect x="398" y="68" width="4" height="2" fill="#ff0000"/><rect x="398" y="32" width="1" height="38" fill="#000"/><rect x="401" y="79" width="4" height="2" fill="#ff0000"/><rect x="401" y="58" width="1" height="34" fill="#000"/><rect x="404" y="131" width="4" height="2" fill="#ff0000"/><rect x="404" y="93" width="1" height="40" fill="#000"/><rect x="407" y="154" width="4" height="2" fill="#ff0000"/><rect x="407" y="126" width="1" height="37" fill="#000"/><rect x="410" y="149" width="4" height="2" fill="#ff0000"/><rect x="410" y="121" width="1" height="30" fill="#000"/><rect x="413" y="129" width="4" height="2" fill="#ff0000"/><rect x="413" y="127" width="1" height="19" fill="#000"/><rect x="416" y="124" width="4" height="2" fill="#ff0000"/><rect x="416" y="112" width="1" height="16" fill="#000"/><rect x="419" y="127" width="4" height="2" fill="#ff0000"/><rect x="419" y="119" width="1" height="16" fill="#000"/><rect x="422" y="150" width="4" height="2" fill="#ff0000"/><rect x="422" y="128" width="1" height="24" fill="#000"/><rect x="425" y="178" width="4" height="2" fill="#ff0000"/><rect x="425" y="156" width="1" height="35" fill="#000"/><rect x="428" y="168" width="4" height="2" fill="#ff0000"/><rect x="428" y="157" width="1" height="22" fill="#000"/><rect x="431" y="169" width="4" height="2" fill="#ff0000"/><rect x="431" y="155" width="1" height="17" fill="#000"/><rect x="434" y="177" width="4" height="2" fill="#ff0000"/><rect x="434" y="170" width="1" height="15" fill="#000"/><rect x="437" y="197" width="4" height="2" fill="#ff0000"/><rect x="437" y="184" width="1" height="18" fill="#000"/><rect x="440" y="192" width="4" height="2" fill="#ff0000"/><rect x="440" y="191" width="1" height="11" fill="#000"/><rect x="443" y="196" width="4" height="2" fill="#ff0000"/><rect x="443" y="188" width="1" height="14" fill="#000"/><rect x="446" y="210" width="4" height="2" fill="#ff0000"/><rect x="446" y="199" width="1" height="20" fill="#000"/><rect x="449" y="208" width="4" height="2" fill="#ff0000"/><rect x="449" y="201" width="1" height="18" fill="#000"/><rect x="452" y="208" width="4" height="2" fill="#ff0000"/><rect x="452" y="203" width="1" height="16" fill="#000"/><rect x="455" y="224" width="4" height="2" fill="#ff0000"/><rect x="455" y="196" width="1" height="32" fill="#000"/><rect x="458" y="238" width="4" height="2" fill="#ff0000"/><rect x="458" y="218" width="1" height="22" fill="#000"/><rect x="461" y="263" width="4" height="2" fill="#ff0000"/><rect x="461" y="238" width="1" height="27" fill="#000"/><rect x="464" y="278" width="4" height="2" fill="#ff0000"/><rect x="464" y="256" width="1" height="26" fill="#000"/><rect x="467" y="304" width="4" height="2" fill="#ff0000"/><rect x="467" y="282" width="1" height="25" fill="#000"/><rect x="470" y="305" width="4" height="2" fill="#ff0000"/><rect x="470" y="296" width="1" height="18" fill="#000"/><rect x="473" y="303" width="4" height="2" fill="#ff0000"/><rect x="473" y="291" width="1" height="18" fill="#000"/><rect x="476" y="320" width="4" height="2" fill="#ff0000"/><rect x="476" y="304" width="1" height="24" fill="#000"/><rect x="479" y="340" width="4" height="2" fill="#ff0000"/><rect x="479" y="326" width="1" height="26" fill="#000"/><rect x="482" y="355" width="4" height="2" fill="#ff0000"/><rect x="482" y="338" width="1" height="28" fill="#000"/><rect x="485" y="336" width="4" height="2" fill="#ff0000"/><rect x="485" y="329" width="1" height="17" fill="#000"/><rect x="488" y="344" width="4" height="2" fill="#ff0000"/><rect x="488" y="334" width="1" height="17" fill="#000"/><rect x="491" y="329" width="4" height="2" fill="#ff0000"/><rect x="491" y="320" width="1" height="18" fill="#000"/><rect x="494" y="318" width="4" height="2" fill="#ff0000"/><rect x="494" y="307" width="1" height="24" fill="#000"/><rect x="497" y="322" width="4" height="2" fill="#ff0000"/><rect x="497" y="302" width="1" height="25" fill="#000"/><rect x="500" y="319" width="4" height="2" fill="#ff0000"/><rect x="500" y="316" width="1" height="11" fill="#000"/><rect x="503" y="326" width="4" height="2" fill="#ff0000"/><rect x="503" y="313" width="1" height="16" fill="#000"/><rect x="512" y="327" width="4" height="2" fill="#ff0000"/><rect x="512" y="316" width="1" height="14" fill="#000"/><rect x="515" y="338" width="4" height="2" fill="#ff0000"/><rect x="515" y="327" width="1" height="15" fill="#000"/><rect x="518" y="337" width="4" height="2" fill="#ff0000"/><rect x="518" y="335" width="1" height="11" fill="#000"/><rect x="524" y="333" width="4" height="2" fill="#ff0000"/><rect x="524" y="319" width="1" height="16" fill="#000"/><rect x="527" y="319" width="4" height="2" fill="#ff0000"/><rect x="527" y="314" width="1" height="20" fill="#000"/><rect x="530" y="326" width="4" height="2" fill="#ff0000"/><rect x="530" y="314" width="1" height="19" fill="#000"/><rect x="533" y="322" width="4" height="2" fill="#ff0000"/><rect x="533" y="318" width="1" height="13" fill="#000"/><rect x="536" y="338" width="4" height="2" fill="#ff0000"/><rect x="536" y="329" width="1" height="24" fill="#000"/><rect x="539" y="346" width="4" height="2" fill="#ff0000"/><rect x="539" y="336" width="1" height="18" fill="#000"/><rect x="542" y="355" width="4" height="2" fill="#ff0000"/><rect x="542" y="344" width="1" height="15" fill="#000"/><rect x="545" y="355" width="4" height="2" fill="#ff0000"/><rect x="545" y="349" width="1" height="12" fill="#000"/><rect x="548" y="346" width="4" height="2" fill="#ff0000"/><rect x="548" y="341" width="1" height="12" fill="#000"/><rect x="551" y="338" width="4" height="2" fill="#ff0000"/><rect x="551" y="337" width="1" height="17" fill="#000"/><rect x="554" y="344" width="4" height="2" fill="#ff0000"/><rect x="554" y="339" width="1" height="10" fill="#000"/><rect x="557" y="354" width="4" height="2" fill="#ff0000"/><rect x="557" y="349" width="1" height="11" fill="#000"/><rect x="560" y="356" width="4" height="2" fill="#ff0000"/><rect x="560" y="352" width="1" height="12" fill="#000"/><rect x="563" y="363" width="4" height="2" fill="#ff0000"/><rect x="563" y="355" width="1" height="15" fill="#000"/><rect x="566" y="354" width="4" height="2" fill="#ff0000"/><rect x="566" y="352" width="1" height="24" fill="#000"/><rect x="569" y="352" width="4" height="2" fill="#ff0000"/><rect x="569" y="349" width="1" height="11" fill="#000"/><rect x="572" y="348" width="4" height="2" fill="#ff0000"/><rect x="572" y="339" width="1" height="16" fill="#000"/><rect x="575" y="337" width="4" height="2" fill="#ff0000"/><rect x="575" y="337" width="1" height="13" fill="#000"/><rect x="578" y="333" width="4" height="2" fill="#ff0000"/><rect x="578" y="331" width="1" height="17" fill="#000"/><rect x="581" y="336" width="4" height="2" fill="#ff0000"/><rect x="581" y="330" width="1" height="17" fill="#000"/><rect x="584" y="336" width="4" height="2" fill="#ff0000"/><rect x="584" y="335" width="1" height="14" fill="#000"/><rect x="587" y="350" width="4" height="2" fill="#ff0000"/><rect x="587" y="339" width="1" height="13" fill="#000"/><rect x="590" y="362" width="4" height="2" fill="#ff0000"/><rect x="590" y="338" width="1" height="26" fill="#000"/><rect x="593" y="375" width="4" height="2" fill="#ff0000"/><rect x="593" y="361" width="1" height="16" fill="#000"/><rect x="596" y="380" width="4" height="2" fill="#ff0000"/><rect x="596" y="374" width="1" height="18" fill="#000"/><rect x="599" y="375" width="4" height="2" fill="#ff0000"/><rect x="599" y="366" width="1" height="18" fill="#000"/><rect x="602" y="372" width="4" height="2" fill="#ff0000"/><rect x="602" y="370" width="1" height="8" fill="#000"/><rect x="605" y="354" width="4" height="2" fill="#ff0000"/><rect x="605" y="350" width="1" height="20" fill="#000"/><rect x="608" y="350" width="4" height="2" fill="#ff0000"/><rect x="608" y="349" width="1" height="10" fill="#000"/><rect x="611" y="334" width="4" height="2" fill="#ff0000"/><rect x="611" y="331" width="1" height="20" fill="#000"/><rect x="614" y="339" width="4" height="2" fill="#ff0000"/><rect x="614" y="329" width="1" height="22" fill="#000"/><rect x="617" y="339" width="4" height="2" fill="#ff0000"/><rect x="617" y="326" width="1" height="19" fill="#000"/><rect x="620" y="312" width="4" height="2" fill="#ff0000"/><rect x="620" y="311" width="1" height="33" fill="#000"/><rect x="623" y="308" width="4" height="2" fill="#ff0000"/><rect x="623" y="304" width="1" height="14" fill="#000"/><rect x="629" y="314" width="4" height="2" fill="#ff0000"/><rect x="629" y="304" width="1" height="18" fill="#000"/><rect x="632" y="297" width="4" height="2" fill="#ff0000"/><rect x="632" y="291" width="1" height="26" fill="#000"/><rect x="635" y="293" width="4" height="2" fill="#ff0000"/><rect x="635" y="291" width="1" height="12" fill="#000"/><rect x="638" y="301" width="4" height="2" fill="#ff0000"/><rect x="638" y="300" width="1" height="12" fill="#000"/><rect x="641" y="305" width="4" height="2" fill="#ff0000"/><rect x="641" y="297" width="1" height="11" fill="#000"/><rect x="644" y="299" width="4" height="2" fill="#ff0000"/><rect x="644" y="292" width="1" height="13" fill="#000"/><rect x="647" y="299" width="4" height="2" fill="#ff0000"/><rect x="647" y="294" width="1" height="10" fill="#000"/><rect x="650" y="307" width="4" height="2" fill="#ff0000"/><rect x="650" y="298" width="1" height="15" fill="#000"/><rect x="653" y="296" width="4" height="2" fill="#ff0000"/><rect x="653" y="290" width="1" height="13" fill="#000"/><rect x="656" y="297" width="4" height="2" fill="#ff0000"/><rect x="656" y="289" width="1" height="10" fill="#000"/><rect x="659" y="303" width="4" height="2" fill="#ff0000"/><rect x="659" y="290" width="1" height="17" fill="#000"/><rect x="662" y="296" width="4" height="2" fill="#ff0000"/><rect x="662" y="289" width="1" height="12" fill="#000"/><rect x="665" y="329" width="4" height="2" fill="#ff0000"/><rect x="665" y="319" width="1" height="27" fill="#000"/><rect x="668" y="340" width="4" height="2" fill="#ff0000"/><rect x="668" y="326" width="1" height="19" fill="#000"/><rect x="671" y="334" width="4" height="2" fill="#ff0000"/><rect x="671" y="334" width="1" height="17" fill="#000"/><rect x="674" y="339" width="4" height="2" fill="#ff0000"/><rect x="674" y="326" width="1" height="16" fill="#000"/><rect x="677" y="316" width="4" height="2" fill="#ff0000"/><rect x="677" y="312" width="1" height="21" fill="#000"/><rect x="680" y="293" width="4" height="2" fill="#ff0000"/><rect x="680" y="286" width="1" height="32" fill="#000"/><rect x="683" y="299" width="4" height="2" fill="#ff0000"/><rect x="683" y="289" width="1" height="13" fill="#000"/><rect x="686" y="287" width="4" height="2" fill="#ff0000"/><rect x="686" y="283" width="1" height="17" fill="#000"/><rect x="689" y="259" width="4" height="2" fill="#ff0000"/><rect x="689" y="259" width="1" height="30" fill="#000"/><rect x="692" y="259" width="4" height="2" fill="#ff0000"/><rect x="692" y="256" width="1" height="11" fill="#000"/><rect x="695" y="246" width="4" height="2" fill="#ff0000"/><rect x="695" y="239" width="1" height="19" fill="#000"/><rect x="698" y="251" width="4" height="2" fill="#ff0000"/><rect x="698" y="244" width="1" height="12" fill="#000"/><rect x="701" y="232" width="4" height="2" fill="#ff0000"/><rect x="701" y="229" width="1" height="19" fill="#000"/><rect x="704" y="234" width="4" height="2" fill="#ff0000"/><rect x="704" y="224" width="1" height="17" fill="#000"/><rect x="707" y="231" width="4" height="2" fill="#ff0000"/><rect x="707" y="230" width="1" height="13" fill="#000"/><rect x="710" y="223" width="4" height="2" fill="#ff0000"/><rect x="710" y="217" width="1" height="15" fill="#000"/><rect x="716" y="212" width="4" height="2" fill="#ff0000"/><rect x="716" y="205" width="1" height="22" fill="#000"/><rect x="719" y="197" width="4" height="2" fill="#ff0000"/><rect x="719" y="187" width="1" height="24" fill="#000"/><rect x="722" y="193" width="4" height="2" fill="#ff0000"/><rect x="722" y="181" width="1" height="18" fill="#000"/><rect x="725" y="199" width="4" height="2" fill="#ff0000"/><rect x="725" y="190" width="1" height="16" fill="#000"/><rect x="728" y="188" width="4" height="2" fill="#ff0000"/><rect x="728" y="187" width="1" height="15" fill="#000"/><rect x="731" y="197" width="4" height="2" fill="#ff0000"/><rect x="731" y="186" width="1" height="16" fill="#000"/><rect x="734" y="202" width="4" height="2" fill="#ff0000"/><rect x="734" y="189" width="1" height="18" fill="#000"/><rect x="737" y="195" width="4" height="2" fill="#ff0000"/><rect x="737" y="193" width="1" height="15" fill="#000"/><rect x="740" y="202" width="4" height="2" fill="#ff0000"/><rect x="740" y="190" width="1" height="16" fill="#000"/><rect x="743" y="202" width="4" height="2" fill="#ff0000"/><rect x="743" y="183" width="1" height="23" fill="#000"/><rect x="746" y="227" width="4" height="2" fill="#ff0000"/><rect x="746" y="200" width="1" height="33" fill="#000"/><rect x="749" y="215" width="4" height="2" fill="#ff0000"/><rect x="749" y="209" width="1" height="24" fill="#000"/><rect x="752" y="218" width="4" height="2" fill="#ff0000"/><rect x="752" y="204" width="1" height="19" fill="#000"/><rect x="755" y="229" width="4" height="2" fill="#ff0000"/><rect x="755" y="215" width="1" height="18" fill="#000"/><rect x="758" y="238" width="4" height="2" fill="#ff0000"/><rect x="758" y="223" width="1" height="17" fill="#000"/><rect x="761" y="239" width="4" height="2" fill="#ff0000"/><rect x="761" y="231" width="1" height="17" fill="#000"/><rect x="764" y="219" width="4" height="2" fill="#ff0000"/><rect x="764" y="218" width="1" height="29" fill="#000"/><rect x="767" y="227" width="4" height="2" fill="#ff0000"/><rect x="767" y="218" width="1" height="13" fill="#000"/><rect x="770" y="215" width="4" height="2" fill="#ff0000"/><rect x="770" y="210" width="1" height="21" fill="#000"/><rect x="773" y="217" width="4" height="2" fill="#ff0000"/><rect x="773" y="207" width="1" height="15" fill="#000"/><rect x="776" y="206" width="4" height="2" fill="#ff0000"/><rect x="776" y="206" width="1" height="16" fill="#000"/><rect x="779" y="245" width="4" height="2" fill="#ff0000"/><rect x="779" y="210" width="1" height="37" fill="#000"/><rect x="782" y="275" width="4" height="2" fill="#ff0000"/><rect x="782" y="246" width="1" height="38" fill="#000"/><rect x="785" y="272" width="4" height="2" fill="#ff0000"/><rect x="785" y="260" width="1" height="18" fill="#000"/></g>
<path d="M281 210h4v1h-4zM285 209h2v1h-2zM287 208h2v1h-2zM289 207h2v1h-2zM291 206h2v1h-2zM293 205h2v1h-2zM295 204h1v1h-1zM296 203h2v1h-2zM298 202h2v1h-2zM300 201h2v1h-2zM302 200h2v1h-2zM304 199h2v1h-2zM306 198h2v1h-2zM308 197h1v1h-1zM309 196h2v1h-2zM311 195h1v1h-1zM312 194h2v1h-2zM314 193h2v1h-2zM316 192h1v1h-1zM317 191h2v1h-2zM319 190h1v1h-1zM320 189h2v1h-2zM322 188h4v1h-4zM326 187h7v1h-7zM333 186h5v1h-5zM338 185h4v1h-4zM342 184h3v1h-3zM345 183h3v1h-3zM348 182h2v1h-2zM350 181h2v1h-2zM352 180h2v1h-2zM354 179h2v1h-2zM356 178h2v1h-2zM358 177h2v1h-2zM360 176h2v1h-2zM362 175h1v1h-1zM363 174h2v1h-2zM365 173h2v1h-2zM367 172h2v1h-2zM369 171h1v1h-1zM370 170h2v1h-2zM372 169h1v1h-1zM373 168h2v1h-2zM375 167h1v1h-1zM376 166h2v1h-2zM378 165h1v1h-1zM379 164h1v1h-1zM380 163h2v1h-2zM382 162h1v1h-1zM383 161h2v1h-2zM385 160h1v1h-1zM386 159h1v1h-1zM387 158h1v1h-1zM388 157h2v1h-2zM390 156h1v1h-1zM391 155h1v1h-1zM392 154h1v1h-1zM393 153h1v1h-1zM394 152h1v1h-1zM395 151h1v1h-1zM396 150h2v1h-2zM398 149h1v1h-1zM399 148h1v1h-1zM400 147h1v1h-1zM401 146h2v1h-2zM403 145h1v1h-1zM404 144h1v1h-1zM405 143h2v1h-2zM407 142h1v1h-1zM408 141h2v1h-2zM410 140h1v1h-1zM411 139h2v1h-2zM413 138h2v1h-2zM415 137h2v1h-2zM417 136h2v1h-2zM419 135h2v1h-2zM421 134h3v1h-3zM424 133h4v1h-4zM428 132h27v1h-27zM455 133h6v1h-6zM461 134h4v1h-4zM465 135h2v1h-2zM467 136h2v1h-2zM469 137h3v1h-3zM472 138h2v1h-2zM474 139h2v1h-2zM476 140h2v1h-2zM478 141h2v1h-2zM480 142h1v1h-1zM481 143h1v1h-1zM482 144h1v1h-1zM483 145h1v1h-1zM484 146h2v1h-2zM486 147h1v1h-1zM487 148h1v1h-1zM488 149h1v1h-1zM489 150h1v1h-1zM490 151h1v1h-1zM491 152h2v1h-2zM493 153h1v1h-1zM494 154h2v1h-2zM496 155h1v1h-1zM497 156h2v1h-2zM499 157h1v1h-1zM500 158h2v1h-2zM502 159h4v1h-4zM506 160h8v1h-8zM514 161h1v1h-1zM515 162h2v1h-2zM517 163h1v1h-1zM518 164h2v1h-2zM520 165h3v1h-3zM523 166h4v1h-4zM527 167h2v1h-2zM529 168h3v1h-3zM532 169h3v1h-3zM535 170h1v1h-1zM536 171h1v1h-1zM537 172h2v1h-2zM539 173h1v1h-1zM540 174h2v1h-2zM542 175h1v1h-1zM543 176h1v1h-1zM544 177h2v1h-2zM546 178h1v1h-1zM547 179h2v1h-2zM549 180h1v1h-1zM550 181h1v1h-1zM551 182h2v1h-2zM553 183h1v1h-1zM554 184h1v1h-1zM555 185h2v1h-2zM557 186h1v1h-1zM558 187h1v1h-1zM559 188h1v1h-1zM560 189h1v1h-1zM561 190h2v1h-2zM563 191h1v1h-1zM564 192h1v1h-1zM565 193h1v1h-1zM566 194h1v1h-1zM567 195h1v1h-1zM568 196h1v2h-1zM569 198h1v1h-1zM570 199h1v1h-1zM571 200h1v1h-1zM572 201h1v1h-1zM573 202h1v1h-1zM574 203h1v1h-1zM575 204h2v1h-2zM577 205h1v1h-1zM578 206h1v1h-1zM579 207h1v1h-1zM580 208h1v1h-1zM581 209h1v1h-1zM582 210h1v1h-1zM583 211h1v1h-1zM584 212h1v1h-1zM585 213h1v2h-1zM586 215h1v1h-1zM587 216h1v1h-1zM588 217h1v1h-1zM589 218h1v1h-1zM590 219h1v1h-1zM591 220h1v1h-1zM592 221h1v1h-1zM593 222h1v1h-1zM594 223h1v1h-1zM595 224h1v2h-1zM596 226h1v1h-1zM597 227h1v1h-1zM598 228h1v1h-1zM599 229h1v1h-1zM600 230h1v1h-1zM601 231h1v1h-1zM602 232h1v1h-1zM603 233h1v1h-1zM604 234h1v1h-1zM605 235h1v1h-1zM606 236h1v1h-1zM607 237h1v1h-1zM608 238h1v1h-1zM609 239h1v1h-1zM610 240h1v1h-1zM611 241h2v1h-2zM613 242h2v1h-2zM615 243h1v1h-1zM616 244h2v1h-2zM618 245h1v1h-1zM619 246h2v1h-2zM621 247h2v1h-2zM623 248h2v1h-2zM625 249h2v1h-2zM627 250h2v1h-2zM629 251h2v1h-2zM631 252h2v1h-2zM633 253h1v1h-1zM634 254h1v1h-1zM635 255h2v1h-2zM637 256h1v1h-1zM638 257h2v1h-2zM640 258h1v1h-1zM641 259h1v1h-1zM642 260h2v1h-2zM644 261h1v1h-1zM645 262h1v1h-1zM646 263h1v1h-1zM647 264h2v1h-2zM649 265h1v1h-1zM650 266h1v1h-1zM651 267h1v1h-1zM652 268h2v1h-2zM654 269h1v1h-1zM655 270h1v1h-1zM656 271h1v1h-1zM657 272h2v1h-2zM659 273h1v1h-1zM660 274h1v1h-1zM661 275h1v1h-1zM662 276h1v1h-1zM663 277h1v1h-1zM664 278h1v1h-1zM665 279h1v1h-1zM666 280h1v1h-1zM667 281h1v1h-1zM668 282h1v1h-1zM669 283h1v1h-1zM670 284h1v1h-1zM671 285h1v1h-1zM672 286h1v1h-1zM673 287h1v1h-1zM674 288h1v1h-1zM675 289h1v1h-1zM676 290h1v2h-1zM677 292h1v1h-1zM678 293h1v1h-1zM679 294h2v1h-2zM681 295h1v1h-1zM682 296h2v1h-2zM684 297h1v1h-1zM685 298h1v1h-1zM686 299h2v1h-2zM688 300h2v1h-2zM690 301h2v1h-2zM692 302h3v1h-3zM695 303h2v1h-2zM697 304h3v1h-3zM700 305h4v1h-4zM704 306h3v1h-3zM707 307h39v1h-39zM746 306h4v1h-4zM750 305h3v1h-3zM753 304h4v1h-4zM757 303h4v1h-4zM761 302h2v1h-2zM763 301h2v1h-2zM765 300h3v1h-3zM768 299h2v1h-2zM770 298h2v1h-2zM772 297h2v1h-2zM774 296h2v1h-2zM776 295h2v1h-2zM778 294h8v1h-8zM786 293h1v1h-1z" fill="#0000ff"/>
<path d="M92 222h1v1h-1zM93 223h2v1h-2zM95 224h1v1h-1zM96 225h1v1h-1zM97 226h2v1h-2zM99 227h2v1h-2zM101 228h1v1h-1zM102 229h1v1h-1zM103 230h2v1h-2zM105 231h1v1h-1zM106 232h1v1h-1zM107 233h1v1h-1zM108 234h1v1h-1zM109 235h1v1h-1zM110 236h1v1h-1zM111 237h2v1h-2zM113 238h1v1h-1zM114 239h1v1h-1zM115 240h1v1h-1zM116 241h1v1h-1zM117 242h1v1h-1zM118 243h1v1h-1zM119 244h1v1h-1zM120 245h1v1h-1zM121 246h2v1h-2zM123 247h2v1h-2zM125 248h2v1h-2zM127 249h3v1h-3zM130 250h3v1h-3zM133 251h2v1h-2zM135 252h2v1h-2zM137 253h1v1h-1zM138 254h1v2h-1zM139 256h2v1h-2zM141 257h2v1h-2zM143 258h1v1h-1zM144 259h2v1h-2zM146 260h2v1h-2zM148 261h3v1h-3zM151 260h2v1h-2zM153 259h2v1h-2zM155 258h2v1h-2zM157 257h4v1h-4zM161 258h4v1h-4zM165 257h3v1h-3zM168 256h4v1h-4zM172 255h3v1h-3zM175 254h2v1h-2zM177 253h1v1h-1zM178 252h2v1h-2zM180 251h1v1h-1zM181 250h1v1h-1zM182 249h1v1h-1zM183 248h2v1h-2zM185 247h1v1h-1zM186 246h1v1h-1zM187 245h1v1h-1zM188 244h1v1h-1zM189 243h1v1h-1zM190 242h1v1h-1zM191 241h1v1h-1zM192 240h1v1h-1zM193 239h1v1h-1zM194 238h1v1h-1zM195 237h1v1h-1zM196 235h1v2h-1zM197 234h1v1h-1zM198 233h1v1h-1zM199 232h1v1h-1zM200 230h1v2h-1zM201 229h1v1h-1zM202 228h1v1h-1zM203 227h1v1h-1zM204 225h1v2h-1zM205 224h1v1h-1zM206 223h1v1h-1zM207 222h1v1h-1zM208 221h2v1h-2zM210 220h1v1h-1zM211 218h1v2h-1zM212 216h1v2h-1zM213 214h1v2h-1zM214 212h1v2h-1zM215 210h1v2h-1zM216 207h1v3h-1zM217 205h1v2h-1zM218 203h1v2h-1zM219 201h1v2h-1zM220 199h1v2h-1zM221 197h1v2h-1zM222 196h1v1h-1zM223 195h1v1h-1zM224 194h1v1h-1zM225 192h1v2h-1zM226 191h1v1h-1zM227 190h1v1h-1zM228 189h1v1h-1zM229 188h1v1h-1zM230 187h1v1h-1zM231 186h1v1h-1zM232 185h1v1h-1zM233 184h1v1h-1zM234 183h1v1h-1zM235 182h1v1h-1zM236 181h1v1h-1zM237 180h1v1h-1zM238 179h1v1h-1zM239 178h13v1h-13zM252 177h2v1h-2zM254 176h2v1h-2zM256 175h2v1h-2zM258 174h2v1h-2zM260 173h3v1h-3zM263 172h3v1h-3zM266 171h2v1h-2zM268 170h2v1h-2zM270 169h2v1h-2zM272 168h2v1h-2zM274 167h2v1h-2zM276 166h2v1h-2zM278 165h1v1h-1zM279 164h2v1h-2zM281 163h1v1h-1zM282 162h2v1h-2zM284 161h1v1h-1zM285 160h1v1h-1zM286 159h1v1h-1zM287 158h1v1h-1zM288 157h1v1h-1zM289 155h1v2h-1zM290 154h1v1h-1zM291 152h1v2h-1zM292 151h1v1h-1zM293 150h1v1h-1zM294 149h1v1h-1zM295 148h1v1h-1zM296 147h1v1h-1zM297 146h1v1h-1zM298 145h1v1h-1zM299 144h1v1h-1zM300 143h1v1h-1zM300 142h3v1h-3zM303 141h2v1h-2zM305 140h2v1h-2zM307 139h2v1h-2zM309 138h2v1h-2zM311 137h1v1h-1zM312 136h1v1h-1zM313 135h1v1h-1zM314 134h1v1h-1zM315 133h1v1h-1zM316 132h1v1h-1zM317 131h1v1h-1zM318 130h1v1h-1zM319 129h1v1h-1zM320 128h1v1h-1zM321 126h1v2h-1zM322 125h1v1h-1zM323 124h1v1h-1zM323 123h2v1h-2zM325 122h3v1h-3zM328 121h4v1h-4zM332 120h2v1h-2zM334 119h2v1h-2zM336 118h2v1h-2zM338 117h2v1h-2zM340 116h2v1h-2zM342 115h2v1h-2zM344 114h2v1h-2zM346 113h1v1h-1zM347 112h1v1h-1zM348 111h1v1h-1zM349 110h1v1h-1zM350 109h1v1h-1zM351 108h2v1h-2zM353 107h1v1h-1zM354 106h1v1h-1zM355 105h1v1h-1zM356 104h1v1h-1zM357 103h2v1h-2zM359 102h1v1h-1zM360 101h2v1h-2zM362 100h2v1h-2zM364 99h1v1h-1zM365 98h2v1h-2zM367 97h2v1h-2zM369 96h2v1h-2zM371 95h3v1h-3zM374 94h2v1h-2zM376 93h3v1h-3zM379 92h11v1h-11zM390 91h3v1h-3zM393 90h2v1h-2zM395 89h9v1h-9zM404 90h2v1h-2zM406 91h1v1h-1zM407 92h1v1h-1zM408 93h1v1h-1zM409 94h1v1h-1zM410 95h1v1h-1zM411 96h1v1h-1zM412 97h1v1h-1zM413 98h2v1h-2zM415 99h1v1h-1zM416 100h8v1h-8zM424 101h5v1h-5zM429 102h2v1h-2zM431 103h2v1h-2zM433 104h2v1h-2zM435 105h2v1h-2zM437 106h1v1h-1zM438 107h1v1h-1zM439 108h2v1h-2zM441 109h1v1h-1zM442 110h1v1h-1zM443 111h1v1h-1zM444 112h1v1h-1zM445 113h1v1h-1zM446 114h1v1h-1zM447 115h1v1h-1zM448 116h1v2h-1zM449 118h1v1h-1zM450 119h1v1h-1zM451 120h1v1h-1zM452 121h1v2h-1zM453 123h1v2h-1zM454 125h1v2h-1zM455 127h1v1h-1zM456 128h1v2h-1zM457 130h1v2h-1zM458 132h1v2h-1zM459 134h1v2h-1zM460 136h1v3h-1zM461 139h1v2h-1zM462 141h1v2h-1zM463 143h1v3h-1zM464 146h1v2h-1zM465 148h1v3h-1zM466 151h1v2h-1zM467 153h1v3h-1zM468 156h1v2h-1zM469 158h1v3h-1zM470 161h1v2h-1zM471 163h1v3h-1zM472 166h1v3h-1zM473 169h1v2h-1zM474 171h1v3h-1zM475 174h1v3h-1zM476 177h1v3h-1zM477 180h1v3h-1zM478 183h1v3h-1zM479 186h1v3h-1zM480 189h1v3h-1zM481 192h1v3h-1zM482 195h1v3h-1zM483 198h1v3h-1zM484 201h1v3h-1zM485 204h1v4h-1zM486 208h1v4h-1zM487 212h1v4h-1zM488 216h1v3h-1zM489 219h1v2h-1zM490 221h1v3h-1zM491 224h1v3h-1zM492 227h1v2h-1zM493 229h1v3h-1zM494 232h1v2h-1zM495 234h1v2h-1zM496 236h1v2h-1zM497 238h1v2h-1zM498 240h1v2h-1zM499 242h1v1h-1zM500 243h1v2h-1zM501 245h1v2h-1zM502 247h1v2h-1zM503 249h1v2h-1zM504 251h1v2h-1zM505 253h2v1h-2zM507 254h1v1h-1zM508 255h1v1h-1zM509 256h2v1h-2zM511 257h1v1h-1zM512 258h1v2h-1zM513 260h1v2h-1zM514 262h1v2h-1zM515 264h1v2h-1zM516 266h1v3h-1zM517 269h1v2h-1zM518 271h1v1h-1zM519 272h2v1h-2zM521 273h1v1h-1zM522 274h1v1h-1zM523 275h1v1h-1zM524 276h1v2h-1zM525 278h1v2h-1zM526 280h1v2h-1zM527 282h1v2h-1zM528 284h1v2h-1zM529 286h1v1h-1zM530 287h1v2h-1zM531 289h1v1h-1zM532 290h1v2h-1zM533 292h1v1h-1zM534 293h1v2h-1zM535 295h1v1h-1zM536 296h1v2h-1zM537 298h1v2h-1zM538 300h1v1h-1zM539 301h1v2h-1zM540 303h1v2h-1zM541 305h1v1h-1zM542 306h1v2h-1zM543 308h1v2h-1zM544 310h1v1h-1zM545 311h1v2h-1zM546 313h1v1h-1zM547 314h1v2h-1zM548 316h1v1h-1zM549 317h1v2h-1zM550 319h1v1h-1zM551 320h1v1h-1zM552 321h1v2h-1zM553 323h1v1h-1zM554 324h1v1h-1zM555 325h1v1h-1zM556 326h1v2h-1zM557 328h1v1h-1zM558 329h1v1h-1zM559 330h1v1h-1zM560 331h1v1h-1zM561 332h1v1h-1zM562 333h1v1h-1zM563 334h1v1h-1zM564 335h2v1h-2zM566 336h2v1h-2zM568 337h2v1h-2zM570 338h2v1h-2zM572 339h9v1h-9zM581 338h7v1h-7zM588 339h3v1h-3zM591 340h1v1h-1zM592 341h2v1h-2zM594 342h2v1h-2zM596 343h1v1h-1zM597 344h2v1h-2zM599 345h1v1h-1zM600 346h1v1h-1zM601 347h2v1h-2zM603 348h2v1h-2zM605 349h15v1h-15zM620 348h7v1h-7zM627 347h4v1h-4zM631 346h2v1h-2zM633 345h1v1h-1zM634 344h2v1h-2zM636 343h1v1h-1zM637 342h2v1h-2zM639 341h2v1h-2zM641 340h2v1h-2zM643 339h2v1h-2zM645 338h2v1h-2zM647 337h2v1h-2zM649 336h2v1h-2zM651 335h2v1h-2zM653 334h1v1h-1zM654 333h2v1h-2zM656 332h1v1h-1zM657 331h2v1h-2zM659 330h1v1h-1zM660 329h3v1h-3zM663 328h14v1h-14zM677 327h2v1h-2zM679 326h1v1h-1zM680 325h2v1h-2zM682 324h1v1h-1zM683 323h1v1h-1zM684 322h1v1h-1zM685 321h1v1h-1zM686 320h1v1h-1zM687 319h1v1h-1zM688 318h1v1h-1zM689 316h1v2h-1zM690 315h1v1h-1zM691 314h1v1h-1zM692 313h1v1h-1zM693 312h1v1h-1zM694 311h1v1h-1zM695 310h1v1h-1zM696 308h1v2h-1zM697 307h1v1h-1zM698 306h1v1h-1zM699 305h1v1h-1zM700 304h1v1h-1zM701 302h1v2h-1zM702 301h1v1h-1zM703 299h1v2h-1zM704 298h1v1h-1zM705 297h1v1h-1zM706 296h1v1h-1zM707 294h1v2h-1zM708 293h1v1h-1zM709 292h1v1h-1zM710 291h1v1h-1zM711 290h2v1h-2zM713 289h2v1h-2zM715 288h1v1h-1zM716 287h1v1h-1zM717 286h1v1h-1zM718 285h1v1h-1zM719 284h1v1h-1zM720 282h1v2h-1zM721 281h1v1h-1zM722 280h1v1h-1zM723 279h1v1h-1zM724 278h1v1h-1zM725 276h1v2h-1zM726 275h1v1h-1zM727 274h1v1h-1zM728 273h1v1h-1zM729 272h1v1h-1zM730 270h1v2h-1zM731 269h1v1h-1zM732 268h1v1h-1zM733 267h1v1h-1zM734 266h1v1h-1zM735 265h1v1h-1zM736 263h1v2h-1zM737 262h1v1h-1zM738 261h1v1h-1zM739 260h1v1h-1zM740 259h1v1h-1zM741 258h1v1h-1zM742 257h1v1h-1zM743 256h1v1h-1zM744 255h1v1h-1zM745 254h1v1h-1zM746 253h1v1h-1zM747 252h1v1h-1zM748 251h1v1h-1zM749 250h1v1h-1zM750 249h1v1h-1zM751 248h1v1h-1zM752 247h1v1h-1zM753 246h2v1h-2zM755 245h1v1h-1zM756 244h1v1h-1zM757 243h1v1h-1zM758 242h1v1h-1zM759 241h1v1h-1zM760 240h1v1h-1zM761 239h1v1h-1zM762 238h1v1h-1zM763 237h1v1h-1zM764 235h1v2h-1zM765 234h1v1h-1zM766 233h1v1h-1zM767 232h1v1h-1zM768 231h1v1h-1zM769 230h1v1h-1zM770 229h1v1h-1zM771 228h1v1h-1zM772 226h1v2h-1zM773 225h1v1h-1zM774 224h1v1h-1zM775 223h1v1h-1zM776 222h1v1h-1zM777 221h9v1h-9z" fill="#ff00ff"/>
<g font-family="Liberation Sans, sans-serif" font-size="14.0px" fill="#000000" stroke="#fff" stroke-width="0.22" style="font-kerning:none"><text transform="translate(4.49,14) scale(0.9679,1)">Historic</text><text transform="translate(53.66,14) scale(0.8946,1)">Chart</text><text transform="translate(89.91,14) scale(0.9744,1)">for</text><text transform="translate(110.23,14) scale(0.9412,1)">Cdn:SGY</text><text transform="translate(170.78,14) scale(0.9093,1)">by</text><text transform="translate(190.18,14) scale(0.9675,1)">Stockwatch.com</text><text transform="translate(293.16,14) scale(0.8983,1)">604.687.1500</text><text transform="translate(374.64,14) scale(1.0533,1)">-</text><text transform="translate(382.99,14) scale(0.9323,1)">(c)</text><text transform="translate(402.28,14) scale(0.8791,1)">2024</text><text transform="translate(4.32,28) scale(0.8872,1)">Thu</text><text transform="translate(30.76,28) scale(0.9022,1)">May</text><text transform="translate(64.57,28) scale(0.8937,1)">2</text><text transform="translate(75.97,28) scale(0.8924,1)">2024</text><text transform="translate(113.28,28) scale(0.9359,1)">Op=7.20</text><text transform="translate(172.53,28) scale(0.9314,1)">Hi=7.31</text><text transform="translate(226.51,28) scale(0.9482,1)">Lo=7.12</text><text transform="translate(284.15,28) scale(0.9086,1)">Cl=7.18</text><text transform="translate(338.34,28) scale(0.9293,1)">Vol=740,926</text><text transform="translate(421.52,28) scale(0.8956,1)">Year</text><text transform="translate(453.10,28) scale(0.9273,1)">hi=9.77</text><text transform="translate(504.70,28) scale(0.9572,1)">lo=5.89</text><text transform="translate(8.83,46) scale(0.9463,1)">Cdn:SGY</text><text transform="translate(9.14,418) scale(0.9469,1)">Volume</text><text transform="translate(793.80,53) scale(0.9080,1)">9.60</text><text transform="translate(793.80,72) scale(0.9080,1)">9.40</text><text transform="translate(793.80,90) scale(0.9080,1)">9.20</text><text transform="translate(793.80,109) scale(0.9080,1)">9.00</text><text transform="translate(793.85,127) scale(0.9064,1)">8.80</text><text transform="translate(793.85,146) scale(0.9064,1)">8.60</text><text transform="translate(793.85,164) scale(0.9064,1)">8.40</text><text transform="translate(793.85,183) scale(0.9064,1)">8.20</text><text transform="translate(793.85,201) scale(0.9064,1)">8.00</text><text transform="translate(793.75,220) scale(0.9102,1)">7.80</text><text transform="translate(793.75,238) scale(0.9102,1)">7.60</text><text transform="translate(793.75,257) scale(0.9102,1)">7.40</text><text transform="translate(793.75,275) scale(0.9102,1)">7.20</text><text transform="translate(793.75,294) scale(0.9102,1)">7.00</text><text transform="translate(793.75,312) scale(0.9100,1)">6.80</text><text transform="translate(793.75,331) scale(0.9100,1)">6.60</text><text transform="translate(793.75,349) scale(0.9100,1)">6.40</text><text transform="translate(793.75,368) scale(0.9100,1)">6.20</text><text transform="translate(793.75,386) scale(0.9100,1)">6.00</text><text transform="translate(793.92,433) scale(0.9528,1)">7.5</text><text transform="translate(815.72,433) scale(1.0251,1)">M</text><text transform="translate(794.07,459) scale(0.9425,1)">5.0</text><text transform="translate(815.72,459) scale(1.0251,1)">M</text><text transform="translate(793.93,485) scale(0.9521,1)">2.5</text><text transform="translate(815.72,485) scale(1.0251,1)">M</text><text transform="translate(19.54,523) scale(0.9259,1)">May</text><text transform="translate(85.40,523) scale(0.9233,1)">Jun</text><text transform="translate(152.19,523) scale(0.9557,1)">Jul</text><text transform="translate(216.57,523) scale(0.9591,1)">Aug</text><text transform="translate(280.99,523) scale(0.9626,1)">Sep</text><text transform="translate(346.96,523) scale(0.9708,1)">Oct</text><text transform="translate(412.51,523) scale(0.9451,1)">Nov</text><text transform="translate(476.87,523) scale(0.9838,1)">Dec</text><text transform="translate(544.20,523) scale(0.9326,1)">Jan</text><text transform="translate(608.50,523) scale(0.9559,1)">Feb</text><text transform="translate(671.52,523) scale(0.9415,1)">Mar</text><text transform="translate(737.97,523) scale(0.9755,1)">Apr</text><text transform="translate(772.54,523) scale(0.9259,1)">May</text><text transform="translate(245.76,539) scale(0.9120,1)">2023</text><text transform="translate(639.97,539) scale(0.8924,1)">2024</text></g>
<g><rect x="0" y="0" width="830" height="2" fill="#000"/><rect x="0" y="541" width="830" height="2" fill="#000"/><rect x="0" y="0" width="2" height="543" fill="#000"/><rect x="828" y="0" width="2" height="543" fill="#000"/><rect x="0" y="30" width="830" height="2" fill="#000"/><rect x="788" y="32" width="2" height="511" fill="#000"/><rect x="2" y="400" width="826" height="1" fill="#000"/><rect x="2" y="402" width="786" height="1" fill="#000"/><rect x="2" y="509" width="786" height="2" fill="#000"/><rect x="2" y="526" width="786" height="2" fill="#000"/><rect x="521" y="511" width="1" height="30" fill="#000"/></g><rect x="1" y="499" width="2" height="9" fill="#b0b0b0"/></svg>
</body></html>
